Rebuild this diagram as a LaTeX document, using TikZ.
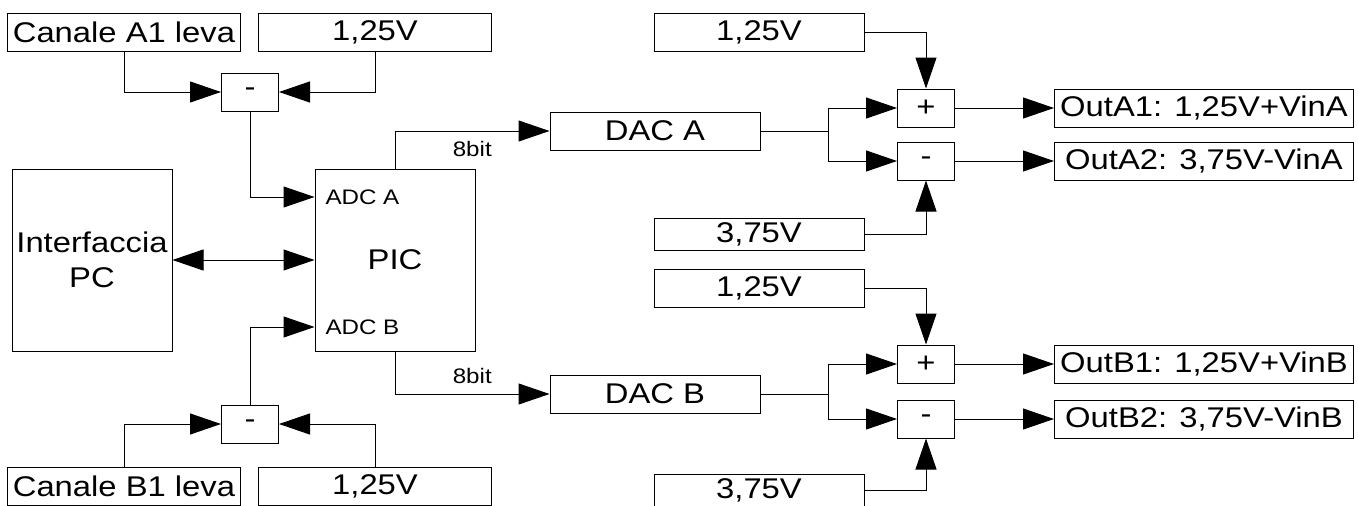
\documentclass[tikz,border=0pt]{standalone}
\usepackage{fontspec}
\setmainfont{Liberation Sans}[FakeStretch=1.15]
\usetikzlibrary{arrows.meta}
\usetikzlibrary{positioning}
\usetikzlibrary{calc}
\newcommand{\txtbig}{\fontsize{28.5}{32}\selectfont}
\newcommand{\txthuge}{\fontsize{28.5}{35}\selectfont}
\newcommand{\txtmid}{\fontsize{21}{25}\selectfont}
\newcommand{\txtsmall}{\fontsize{21}{24}\selectfont}

\begin{document}
\begin{tikzpicture}[x=1pt,y=-1pt,>={Triangle[length=31pt,width=21pt]},line width=1pt,
	blk/.style={draw,inner sep=0pt,minimum height=38pt,font=\txtbig},
	wide/.style={blk,minimum width=233pt},
	src/.style={blk,minimum width=210pt},
	op/.style={blk,minimum width=57pt},
	outbox/.style={blk,minimum width=299pt},
	unit/.style={draw,inner sep=0pt,minimum width=160pt,minimum height=182pt,font=\txthuge,align=center},
	port/.style={inner sep=0pt,anchor=west,font=\txtmid}]
	\useasboundingbox (0,0) rectangle (1358,506);
	\node[wide] (canA) at (124,32) {Canale A1 leva};
	\node[wide] (refA) [right=17pt of canA] {1,25V};
	\node[op] (subA) at (250,92) {-};
	\node[unit] (pic) at (395,260) {PIC};
	\node[unit] (pc) [left=142pt of pic] {Interfaccia\\PC};
	\node[port] (adcA) at (325,197) {ADC A};
	\node[port] (adcB) at (325,327) {ADC B};
	\node[op] (subB) at (250,424) {-};
	\node[wide] (canB) at (124,486) {Canale B1 leva};
	\node[wide] (refB) [right=17pt of canB] {1,25V};
	\node[src] (dacA) at (655,131) {DAC A};
	\node[src] (dacB) at (655,394) {DAC B};
	\node[src] (vA1) at (759,32) {1,25V};
	\node[src,minimum height=32pt] (vA2) at (759,234) {3,75V};
	\node[src] (vB1) at (759,288) {1,25V};
	\node[src,minimum height=32pt] (vB2) at (759,490) {3,75V};
	\node[op] (plusA) at (926,108) {+};
	\node[op] (minA) [below=14pt of plusA] {-};
	\node[op] (plusB) at (926,364) {+};
	\node[op] (minB) [below=16pt of plusB] {-};
	\node[outbox] (outA1) [right=99pt of plusA] {OutA1: 1,25V+VinA};
	\node[outbox] (outA2) [right=99pt of minA] {OutA2: 3,75V-VinA};
	\node[outbox] (outB1) [right=99pt of plusB] {OutB1: 1,25V+VinB};
	\node[outbox] (outB2) [right=99pt of minB] {OutB2: 3,75V-VinB};
	\draw[->] (canA.south) |- (subA.west);
	\draw[->] (refA.south) |- (subA.east);
	\draw[->] (subA.south) |- (adcA -| pic.west);
	\draw[<->] (pc.east) -- (pic.west);
	\draw[->] (subB.north) |- (adcB -| pic.west);
	\draw[->] (canB.north) |- (subB.west);
	\draw[->] (refB.north) |- (subB.east);
	\draw[->] (pic.north) |- node[pos=0.75,below=6pt,font=\txtsmall] {8bit} (dacA.west);
	\draw[->] (pic.south) |- node[pos=0.75,above=6pt,font=\txtsmall] {8bit} (dacB.west);
	\foreach \ch in {A,B} {
		\coordinate (br\ch) at ($(dac\ch.east)+(68,0)$);
		\draw (dac\ch.east) -- (br\ch);
		\draw[->] (br\ch) |- (plus\ch.west);
		\draw[->] (br\ch) |- (min\ch.west);
		\draw[->] (v\ch1.east) -| (plus\ch.north);
		\draw[->] (v\ch2.east) -| (min\ch.south);
		\draw[->] (plus\ch.east) -- (out\ch1.west);
		\draw[->] (min\ch.east) -- (out\ch2.west);
	}
\end{tikzpicture}
\end{document}
